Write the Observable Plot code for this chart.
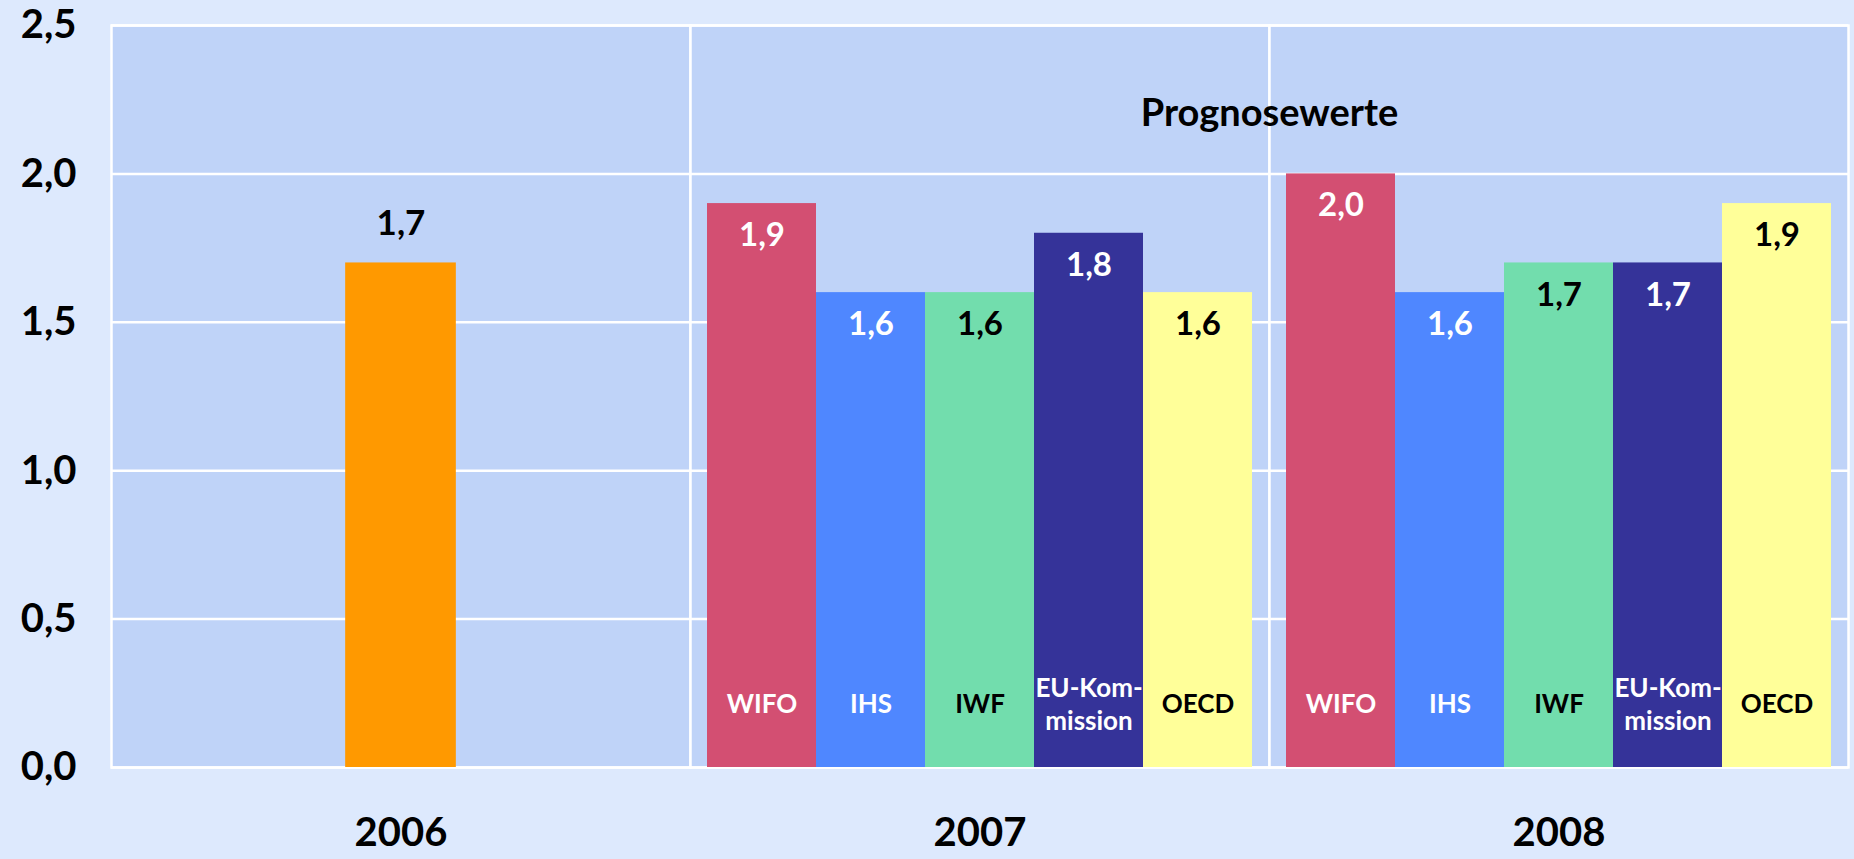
<!DOCTYPE html>
<html>
<head>
<meta charset="utf-8">
<script src="https://cdn.jsdelivr.net/npm/d3@7"></script>
<script src="https://cdn.jsdelivr.net/npm/@observablehq/plot@0.6"></script>
<style>
html, body { margin: 0; padding: 0; background: #dde9fd; }
svg [aria-label="y-axis tick label"] text, svg [aria-label="y-axis"] text { font-size: 40px; }
</style>
</head>
<body>
<div id="chart"></div>
<script>
// ---- data ----
const years = [2006, 2007, 2008];
const institutes = ["WIFO", "IHS", "IWF", "EU-Kommission", "OECD"];
const instituteLabels = ["WIFO", "IHS", "IWF", "EU-Kom-\nmission", "OECD"];
const instituteColors = ["#d34f72", "#4f87ff", "#72ddad", "#353399", "#ffff99"];
const labelColors = ["white", "white", "black", "white", "black"];
const value2006 = 1.7;
const values2007 = [1.9, 1.6, 1.6, 1.8, 1.6];
const values2008 = [2.0, 1.6, 1.7, 1.7, 1.9];
const yTicks = [0, 0.5, 1.0, 1.5, 2.0, 2.5];
const forecastNote = "Prognosewerte";

// ---- layout ----
const W = 1854, H = 859;
const mL = 110, mR = 6, mT = 25, mB = 92;
const facetW = (W - mL - mR) / years.length;
const bar2006W = 111;
const fmt = d => d.toFixed(1).replace(".", ",");

const rows = [];
[[2007, values2007], [2008, values2008]].forEach(([year, vals]) => {
  vals.forEach((v, i) => rows.push({
    year, inst: institutes[i], label: instituteLabels[i], value: v,
    color: instituteColors[i], textColor: labelColors[i]
  }));
});
const actual = [{year: 2006, value: value2006}];

const chart = Plot.plot({
  width: W,
  height: H,
  marginLeft: mL,
  marginRight: mR,
  marginTop: mT,
  marginBottom: mB,
  style: {
    background: "#dde9fd",
    fontFamily: "Lato, 'Open Sans', sans-serif",
    fontWeight: "bold",
    fontSize: "40px",
    color: "black"
  },
  fx: {domain: years, padding: 0, label: null, tickSize: 0, tickPadding: 50, axis: "bottom", tickFormat: d => String(d)},
  x: {domain: institutes, paddingInner: 0, paddingOuter: 0.146, axis: null},
  y: {domain: [0, 2.5], ticks: yTicks, tickFormat: fmt, tickSize: 0, tickPadding: 35, label: null},
  color: {type: "identity"},
  marks: [
    Plot.frame({fill: "#bfd3f8", stroke: "white", strokeWidth: 2.5}),
    Plot.ruleY(yTicks, {stroke: "white", strokeWidth: 2.5}),
    Plot.barY(actual, {
      fx: "year", y: "value", fill: "#ff9900",
      insetLeft: (facetW - bar2006W) / 2, insetRight: (facetW - bar2006W) / 2
    }),
    Plot.text(actual, {fx: "year", y: "value", text: d => fmt(d.value), dy: -39, fontSize: 35, fill: "black"}),
    Plot.barY(rows, {fx: "year", x: "inst", y: "value", fill: "color"}),
    Plot.text(rows, {fx: "year", x: "inst", y: "value", text: d => fmt(d.value), dy: 32, fontSize: 33, fill: "textColor"}),
    Plot.text(rows, {fx: "year", x: "inst", frameAnchor: "bottom", text: "label", dy: -65, fontSize: 26, lineHeight: 1.27, fill: "textColor", lineAnchor: "middle"}),
    Plot.text([{year: 2008, label: forecastNote}], {
      fx: "year", text: "label", frameAnchor: "top-left", textAnchor: "middle", lineAnchor: "middle",
      dy: 88, fontSize: 38, fill: "black"
    })
  ]
});
document.getElementById("chart").appendChild(chart);
</script>
</body>
</html>
